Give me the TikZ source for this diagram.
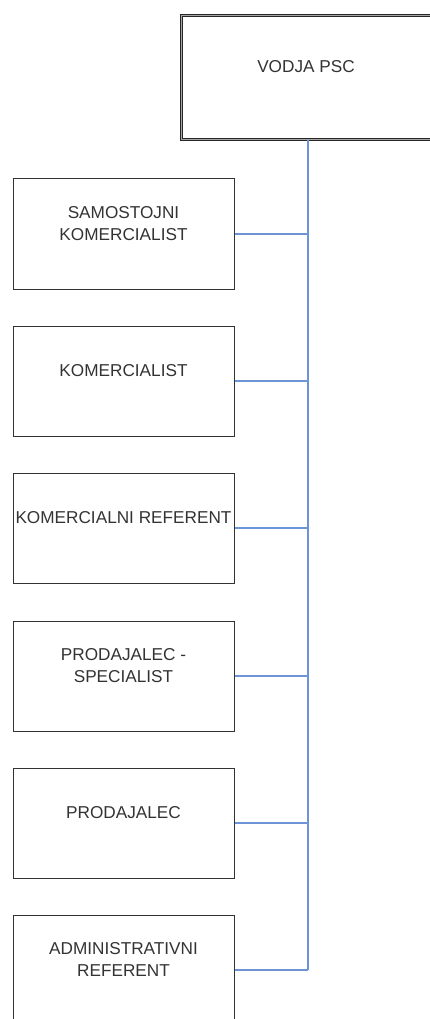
\documentclass[tikz,border=0pt]{standalone}
\usepackage{fontspec}
\setmainfont{Liberation Sans}
\definecolor{linkblue}{RGB}{108,148,214}
\definecolor{boxline}{RGB}{50,50,50}
\begin{document}
\begin{tikzpicture}[x=1pt,y=-1pt,
  headbox/.style={draw=black!85,double=black!35,line width=1pt,double distance=1.6pt,
    rectangle,minimum width=250pt,minimum height=124pt,inner sep=0pt,anchor=north west},
  rolebox/.style={draw=boxline,line width=1pt,rectangle,minimum width=221pt,
    minimum height=110pt,inner sep=0pt,anchor=north west},
  roletext/.style={font=\fontsize{17.2}{22}\selectfont,text=black!80,align=center,inner sep=0pt},
  link/.style={draw=linkblue,line width=1.5pt}]
\useasboundingbox (0,0) rectangle (429,1019);

% head of the unit
\node[headbox] (head) at (181,15) {};
\node[roletext] (headtxt) at (306,67) {VODJA PSC};

% subordinate roles, one box per row
\foreach \top/\name/\txt in {178.5/r1/{SAMOSTOJNI\\KOMERCIALIST},
                              325.5/r2/{KOMERCIALIST},
                              472.5/r3/{KOMERCIALNI REFERENT},
                              620.5/r4/{PRODAJALEC -\\SPECIALIST},
                              767.5/r5/{PRODAJALEC},
                              914.5/r6/{ADMINISTRATIVNI\\REFERENT}} {
  \node[rolebox] (\name) at (13,\top) {};
  \node[roletext] (\name txt) at (123.5,\top+45) {\txt};
}

% connectors: trunk from the head, branches into each role
\coordinate (trunkend) at (308,969.5);
\draw[link] (head.south -| trunkend) -- (trunkend);
\foreach \name in {r1,r2,r3,r4,r5,r6} {
  \draw[link] (\name.east) -- (\name.east -| trunkend);
}
\end{tikzpicture}
\end{document}
